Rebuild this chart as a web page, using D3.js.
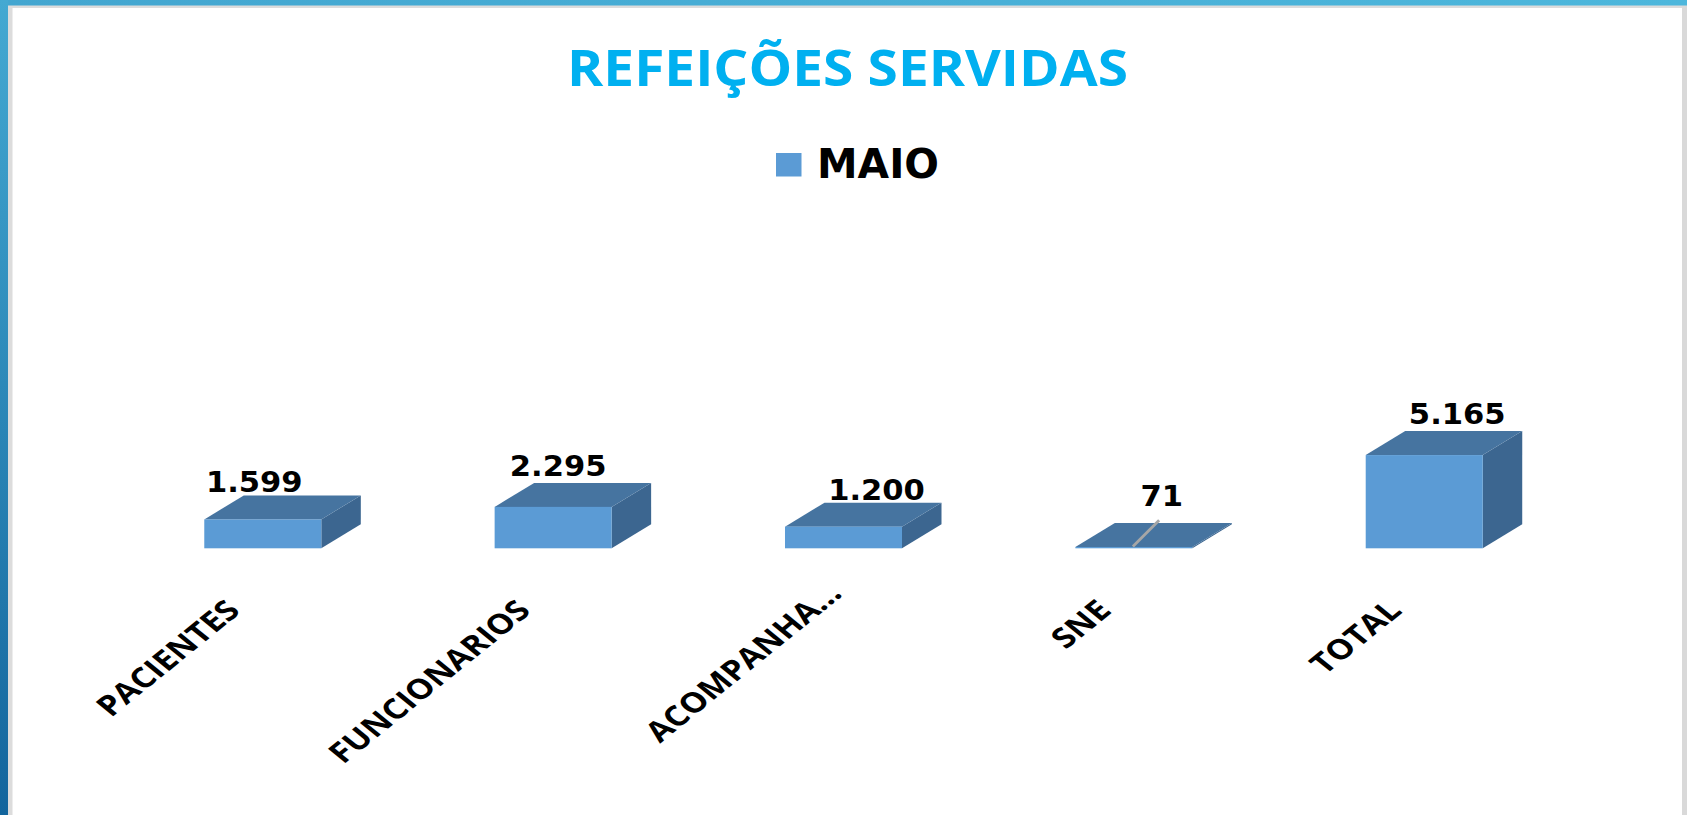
<!DOCTYPE html>
<html>
<head>
<meta charset="utf-8">
<script src="https://cdn.jsdelivr.net/npm/d3@7"></script>
<style>
  html, body { margin: 0; padding: 0; background: #ffffff; overflow: hidden; }
  svg { display: block; }
</style>
</head>
<body>
<svg id="chart" width="1687" height="815"></svg>
<script>
// ---------------- DATA ----------------
const chartTitle = "REFEIÇÕES SERVIDAS";
const seriesName = "MAIO";
const categories = ["PACIENTES", "FUNCIONARIOS", "ACOMPANHA...", "SNE", "TOTAL"];
const values = [1599, 2295, 1200, 71, 5165];

// ---------------- LAYOUT / STYLE ----------------
const W = 1687, H = 815;
const colorFront = "#5B9BD5", colorTop = "#4674A0", colorSide = "#3C6690";
const depthX = 39.5, depthY = -24;
// label offsets (relative to bar front-centre / back-top edge), as placed in the original
const labelNudgeX = [-8.5, 5, 33, 28, 33];
const labelNudgeY = [-3, -7, -3, -17, -7];
// shift of rotated category labels along their baseline
const axisLabelShift = [0, 0, 24, 0, 0];

const ptBR = d3.formatLocale({decimal: ",", thousands: ".", grouping: [3], currency: ["R$", ""]});
const fmt = ptBR.format(",d");

const svg = d3.select("#chart");
const defs = svg.append("defs");

// frame gradients
const gLeft = defs.append("linearGradient").attr("id", "gLeft").attr("x1", 0).attr("y1", 0).attr("x2", 0).attr("y2", 1);
gLeft.append("stop").attr("offset", "0%").attr("stop-color", "#44A9D2");
gLeft.append("stop").attr("offset", "100%").attr("stop-color", "#13659D");
const gTop = defs.append("linearGradient").attr("id", "gTop").attr("x1", 0).attr("y1", 0).attr("x2", 1).attr("y2", 0);
gTop.append("stop").attr("offset", "0%").attr("stop-color", "#43A6D0");
gTop.append("stop").attr("offset", "100%").attr("stop-color", "#4DB7DC");

svg.append("rect").attr("width", W).attr("height", H).attr("fill", "#ffffff");
// inner grey lines
svg.append("rect").attr("x", 8).attr("y", 5).attr("width", 4.5).attr("height", H - 5).attr("fill", "#DCDCDC");
svg.append("rect").attr("x", 8).attr("y", 5).attr("width", W - 8).attr("height", 3).attr("fill", "#DCDCDC");
svg.append("rect").attr("x", 1682).attr("y", 5).attr("width", 5).attr("height", H - 5).attr("fill", "#D9D9D9");
// blue frame
svg.append("rect").attr("x", 0).attr("y", 0).attr("width", W).attr("height", 5.5).attr("fill", "url(#gTop)");
svg.append("rect").attr("x", 0).attr("y", 0).attr("width", 8).attr("height", H).attr("fill", "url(#gLeft)");

// ---------------- TITLE ----------------
svg.append("text")
  .attr("x", 847.5).attr("y", 86)
  .attr("text-anchor", "middle")
  .attr("font-family", "'Open Sans', sans-serif")
  .attr("font-weight", 700)
  .attr("font-size", 50)
  .attr("fill", "#00B0F0")
  .attr("textLength", 561)
  .attr("lengthAdjust", "spacingAndGlyphs")
  .text(chartTitle);

// ---------------- LEGEND ----------------
const legend = svg.append("g");
legend.append("rect").attr("x", 776).attr("y", 153).attr("width", 25.5).attr("height", 23.5).attr("fill", colorFront);
legend.append("text")
  .attr("x", 817).attr("y", 178)
  .attr("font-family", "'DejaVu Sans', sans-serif")
  .attr("font-weight", 700)
  .attr("font-size", 40)
  .attr("fill", "#000")
  .attr("textLength", 122)
  .attr("lengthAdjust", "spacingAndGlyphs")
  .text(seriesName);

// ---------------- SCALES ----------------
const x = d3.scaleBand().domain(categories).range([117.6, 1569.4]).paddingInner(0.597).paddingOuter(0.2985);
const y = d3.scaleLinear().domain([0, 6000]).range([548.3, 440]);

const data = categories.map((c, i) => ({cat: c, value: values[i], i}));

// ---------------- BARS (3D) ----------------
const bars = svg.append("g").selectAll("g").data(data).join("g");

bars.append("path") // right side
  .attr("fill", colorSide)
  .attr("d", d => {
    const x1 = x(d.cat) + x.bandwidth(), yT = y(d.value), y0 = y(0);
    return `M${x1},${yT}L${x1 + depthX},${yT + depthY}L${x1 + depthX},${y0 + depthY}L${x1},${y0}Z`;
  });
bars.append("path") // top face
  .attr("fill", colorTop)
  .attr("d", d => {
    const x0 = x(d.cat), x1 = x0 + x.bandwidth(), yT = y(d.value);
    return `M${x0},${yT}L${x1},${yT}L${x1 + depthX},${yT + depthY}L${x0 + depthX},${yT + depthY}Z`;
  });
bars.append("rect") // front
  .attr("fill", colorFront)
  .attr("x", d => x(d.cat))
  .attr("y", d => y(d.value))
  .attr("width", x.bandwidth())
  .attr("height", d => y(0) - y(d.value));

// leader line for very small values
bars.filter(d => d.value < d3.max(values) * 0.05)
  .append("line")
  .attr("x1", d => x(d.cat) + x.bandwidth() / 2 - 1)
  .attr("y1", d => y(d.value) - 0.5)
  .attr("x2", d => x(d.cat) + x.bandwidth() / 2 + depthX * 0.64)
  .attr("y2", d => y(d.value) + depthY * 1.12)
  .attr("stroke", "#A6A6A6")
  .attr("stroke-width", 2.8);

// ---------------- DATA LABELS ----------------
svg.append("g").selectAll("text").data(data).join("text")
  .attr("transform", d => {
    const cx = x(d.cat) + x.bandwidth() / 2 + labelNudgeX[d.i];
    const by = y(d.value) + depthY + labelNudgeY[d.i];
    return `translate(${cx},${by}) scale(1.055,1)`;
  })
  .attr("text-anchor", "middle")
  .attr("font-family", "'DejaVu Sans', sans-serif")
  .attr("font-weight", 700)
  .attr("font-size", 29)
  .attr("fill", "#000")
  .text(d => fmt(d.value));

// ---------------- CATEGORY AXIS LABELS ----------------
svg.append("g").selectAll("text").data(data).join("text")
  .attr("transform", d => {
    const ax = x(d.cat) + x.bandwidth() / 2 - 21;
    return `translate(${ax},612) scale(1.235,1) rotate(-45) translate(${axisLabelShift[d.i]},0)`;
  })
  .attr("text-anchor", "end")
  .attr("font-family", "'Open Sans', sans-serif")
  .attr("font-weight", 700)
  .attr("font-size", 28)
  .attr("fill", "#000")
  .text(d => d.cat);
</script>
</body>
</html>
